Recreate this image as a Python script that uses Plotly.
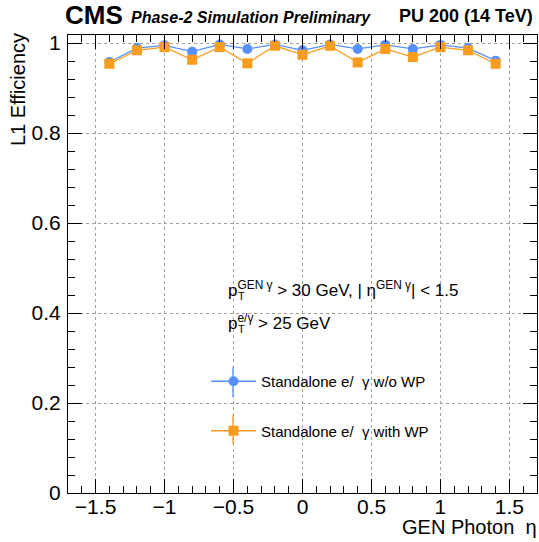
import plotly.graph_objects as go

# ---- data ----
eta = [-1.4, -1.2, -1.0, -0.8, -0.6, -0.4, -0.2, 0.0, 0.2, 0.4, 0.6, 0.8, 1.0, 1.2, 1.4]
eff_nowp = [0.958, 0.989, 0.995, 0.981, 0.997, 0.987, 0.997, 0.984, 0.997, 0.987, 0.996, 0.987, 0.996, 0.989, 0.961]
eff_wp = [0.954, 0.984, 0.991, 0.963, 0.991, 0.955, 0.994, 0.974, 0.994, 0.957, 0.987, 0.969, 0.991, 0.984, 0.954]
err_nowp = [0.006, 0.004, 0.003, 0.004, 0.002, 0.004, 0.002, 0.004, 0.002, 0.004, 0.003, 0.004, 0.003, 0.004, 0.006]
err_wp = [0.007, 0.005, 0.004, 0.006, 0.004, 0.006, 0.003, 0.005, 0.003, 0.006, 0.004, 0.006, 0.004, 0.005, 0.007]

xtick_vals = [-1.5, -1, -0.5, 0, 0.5, 1, 1.5]
xtick_text = ["\u22121.5", "\u22121", "\u22120.5", "0", "0.5", "1", "1.5"]
ytick_vals = [0, 0.2, 0.4, 0.6, 0.8, 1.0]
ytick_text = ["0", "0.2", "0.4", "0.6", "0.8", "1"]

name_nowp = "Standalone e/  \u03b3 w/o WP"
name_wp = "Standalone e/  \u03b3 with WP"
xtitle = "GEN Photon  \u03b7"
ytitle = "L1 Efficiency"

BLUE = "#5790fc"
ORANGE = "#f89c20"
FONT = "Liberation Sans, Arial, Helvetica, sans-serif"

W, H = 539, 542
L, R, T, B = 68, 2, 35, 49
PW, PH = W - L - R, H - T - B


def px(x):
    return (x - L) / PW


def py(y):
    return (H - B - y) / PH


fig = go.Figure()
fig.add_trace(go.Scatter(
    x=eta, y=eff_nowp, mode="lines+markers", name=name_nowp,
    line=dict(color=BLUE, width=1.3),
    marker=dict(symbol="circle", size=10, color=BLUE),
    error_y=dict(type="data", array=err_nowp, color=BLUE, thickness=1.2, width=0),
    legendgroup="a",
))
fig.add_trace(go.Scatter(
    x=eta, y=eff_wp, mode="lines+markers", name=name_wp,
    line=dict(color=ORANGE, width=1.3),
    marker=dict(symbol="square", size=10, color=ORANGE),
    error_y=dict(type="data", array=err_wp, color=ORANGE, thickness=1.2, width=0),
    legendgroup="b",
))

axis_common = dict(
    showline=True, linecolor="black", linewidth=1, mirror="ticks",
    ticks="inside", ticklen=14, tickcolor="black", tickwidth=1,
    showgrid=True, gridcolor="#a0a0a0", griddash="dot", gridwidth=1,
    zeroline=False,
    tickfont=dict(family=FONT, size=21, color="black"),
)

fig.update_xaxes(
    range=[-1.7, 1.7],
    tickvals=xtick_vals, ticktext=xtick_text,
    minor=dict(tick0=0, dtick=0.1, ticklen=7, ticks="inside", tickcolor="black", showgrid=False),
    ticklabelstandoff=-5,
    **axis_common,
)
fig.update_yaxes(
    range=[0, 1.018],
    tickvals=ytick_vals, ticktext=ytick_text,
    minor=dict(tick0=0, dtick=0.04, ticklen=7, ticks="inside", tickcolor="black", showgrid=False),
    ticklabelstandoff=2,
    **axis_common,
)

ann = []
# header
ann.append(dict(text="<b>CMS</b>", x=px(63), y=py(15), xanchor="left", yanchor="middle",
                font=dict(family=FONT, size=26, color="black")))
ann.append(dict(text="<b><i>Phase-2 Simulation Preliminary</i></b>", x=px(129), y=py(17), xanchor="left",
                yanchor="middle", font=dict(family=FONT, size=16, color="black")))
ann.append(dict(text="<b>PU 200 (14 TeV)</b>", x=px(535), y=py(16), xanchor="right", yanchor="middle",
                font=dict(family=FONT, size=18, color="black")))
# axis titles
ann.append(dict(text=ytitle, x=px(18), y=py(90), xanchor="center", yanchor="middle", textangle=-90,
                font=dict(family=FONT, size=20, color="black")))
ann.append(dict(text=xtitle, x=px(539), y=py(527), xanchor="right", yanchor="middle",
                font=dict(family=FONT, size=20, color="black")))
# selection text
ann.append(dict(text="p<sup>GEN \u03b3</sup> > 30 GeV, | \u03b7<sup>GEN \u03b3</sup>| < 1.5",
                x=px(226), y=py(289), xanchor="left", yanchor="middle",
                font=dict(family=FONT, size=17, color="black")))
ann.append(dict(text="T", x=px(236), y=py(296), xanchor="left", yanchor="middle",
                font=dict(family=FONT, size=11, color="black")))
ann.append(dict(text="p<sup>e/\u03b3</sup> > 25 GeV",
                x=px(226), y=py(322), xanchor="left", yanchor="middle",
                font=dict(family=FONT, size=17, color="black")))
ann.append(dict(text="T", x=px(236), y=py(329), xanchor="left", yanchor="middle",
                font=dict(family=FONT, size=11, color="black")))
for a in ann:
    a.update(xref="paper", yref="paper", showarrow=False)

# vertical error-bar strokes of the legend glyphs
shapes = [
    dict(type="line", xref="paper", yref="paper", x0=px(233), x1=px(233), y0=py(367), y1=py(397),
         line=dict(color=BLUE, width=1.3)),
    dict(type="line", xref="paper", yref="paper", x0=px(233), x1=px(233), y0=py(415), y1=py(444),
         line=dict(color=ORANGE, width=1.3)),
]

fig.update_layout(
    width=W, height=H,
    margin=dict(l=L, r=R, t=T, b=B),
    paper_bgcolor="white", plot_bgcolor="white",
    font=dict(family=FONT, color="black"),
    annotations=ann,
    shapes=shapes,
    showlegend=True,
    legend=dict(x=px(206), y=py(365), xanchor="left", yanchor="top",
                font=dict(family=FONT, size=15, color="black"),
                bgcolor="rgba(0,0,0,0)", tracegroupgap=27, itemwidth=45),
)

fig.write_html("out.html", config={"displayModeBar": False},
               post_script="document.body.style.margin='0';")
